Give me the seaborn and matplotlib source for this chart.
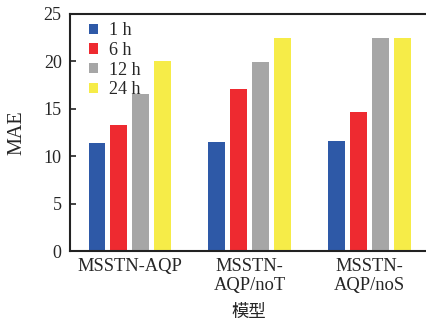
import matplotlib
matplotlib.use("Agg")
import matplotlib.pyplot as plt
import seaborn as sns
import pandas as pd

models = ["MSSTN-AQP", "MSSTN-\nAQP/noT", "MSSTN-\nAQP/noS"]
horizons = ["1 h", "6 h", "12 h", "24 h"]
mae_1h = [11.4, 11.45, 11.6]
mae_6h = [13.3, 17.1, 14.65]
mae_12h = [16.55, 19.95, 22.45]
mae_24h = [20.0, 22.45, 22.45]
colors = ["#2E59A7", "#EE2A30", "#A6A6A6", "#F6EC48"]

rows = []
for h, vals in zip(horizons, [mae_1h, mae_6h, mae_12h, mae_24h]):
    for m, v in zip(models, vals):
        rows.append({"model": m, "horizon": h, "MAE": v})
df = pd.DataFrame(rows)

sns.set_theme(style="white")
plt.rcParams["font.family"] = ["Liberation Serif", "Noto Sans CJK SC"]

fig = plt.figure(figsize=(4.27, 3.22), dpi=100)
ax = fig.add_axes([70/427, 1-251/322, 1-70/427, (251-14)/322])
sns.barplot(data=df, x="model", y="MAE", hue="horizon", order=models,
            hue_order=horizons, palette=colors, width=0.733, gap=0.23,
            saturation=1, ax=ax, linewidth=0)

ax.set_xlim(-0.5, 2.48)
ax.set_ylim(0, 25)
ax.set_yticks([0, 5, 10, 15, 20, 25])
ax.tick_params(axis="y", direction="in", length=4, width=1.2, labelsize=13, pad=6, color="#222222", left=True)
ax.tick_params(axis="x", length=0, labelsize=13.3, pad=5)
for lbl in ax.get_xticklabels():
    lbl.set_linespacing(1.15)
ax.set_xlabel("模型", fontsize=12.5, labelpad=8)
ax.set_ylabel("MAE", fontsize=14.5, labelpad=12)
for s in ["left", "bottom", "top"]:
    ax.spines[s].set_visible(True)
    ax.spines[s].set_linewidth(1.5)
    ax.spines[s].set_color("#222222")
ax.spines["right"].set_visible(False)

leg = ax.legend(loc="upper left", bbox_to_anchor=(0.03, 1.0), frameon=False,
                fontsize=13, handlelength=0.5, handleheight=0.5,
                handletextpad=0.6, labelspacing=0.15, borderaxespad=0.0,
                borderpad=0.45)

fig.savefig("out.png", dpi=100)
